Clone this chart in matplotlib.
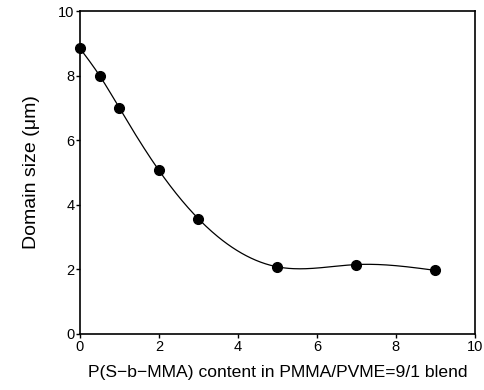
import matplotlib
matplotlib.use("Agg")
import matplotlib.pyplot as plt
import numpy as np

plt.rcParams['font.family'] = ['Liberation Sans', 'DejaVu Sans']

content = [0, 0.5, 1, 2, 3, 5, 7, 9]
domain_size = [8.85, 8.0, 7.0, 5.07, 3.57, 2.08, 2.15, 1.97]


def natural_spline(x, y, xs):
    x = np.asarray(x, float)
    y = np.asarray(y, float)
    n = len(x)
    h = np.diff(x)
    A = np.zeros((n, n))
    b = np.zeros(n)
    A[0, 0] = A[-1, -1] = 1
    for i in range(1, n - 1):
        A[i, i - 1] = h[i - 1]
        A[i, i] = 2 * (h[i - 1] + h[i])
        A[i, i + 1] = h[i]
        b[i] = 6 * ((y[i + 1] - y[i]) / h[i] - (y[i] - y[i - 1]) / h[i - 1])
    M = np.linalg.solve(A, b)
    idx = np.clip(np.searchsorted(x, xs) - 1, 0, n - 2)
    x0, x1 = x[idx], x[idx + 1]
    hh = x1 - x0
    t0, t1 = x1 - xs, xs - x0
    return (M[idx] * t0**3 + M[idx + 1] * t1**3) / (6 * hh) \
        + (y[idx] / hh - M[idx] * hh / 6) * t0 + (y[idx + 1] / hh - M[idx + 1] * hh / 6) * t1


fig = plt.figure(figsize=(4.84, 3.9), dpi=100)
ax = fig.add_axes([0.165, 0.1436, 0.816, 0.828])

xs = np.linspace(content[0], content[-1], 300)
ax.plot(xs, natural_spline(content, domain_size, xs), color="black", lw=0.9)
ax.plot(content, domain_size, "o", color="black", markersize=7, clip_on=False, zorder=3)

ax.set_xlim(0, 10)
ax.set_ylim(0, 10)
ax.set_xticks([0, 2, 4, 6, 8, 10])
ax.set_yticks([0, 2, 4, 6, 8, 10])
ax.tick_params(direction="out", length=3, width=1, pad=1, labelsize=10.5)
for s in ax.spines.values():
    s.set_linewidth(1.2)

ax.set_xlabel("P(S\u2212b\u2212MMA) content in PMMA/PVME=9/1 blend", fontsize=12.6, labelpad=8)
ax.set_ylabel("Domain size (\u03bcm)", fontsize=14, labelpad=13)

fig.savefig("out.png", dpi=100)
